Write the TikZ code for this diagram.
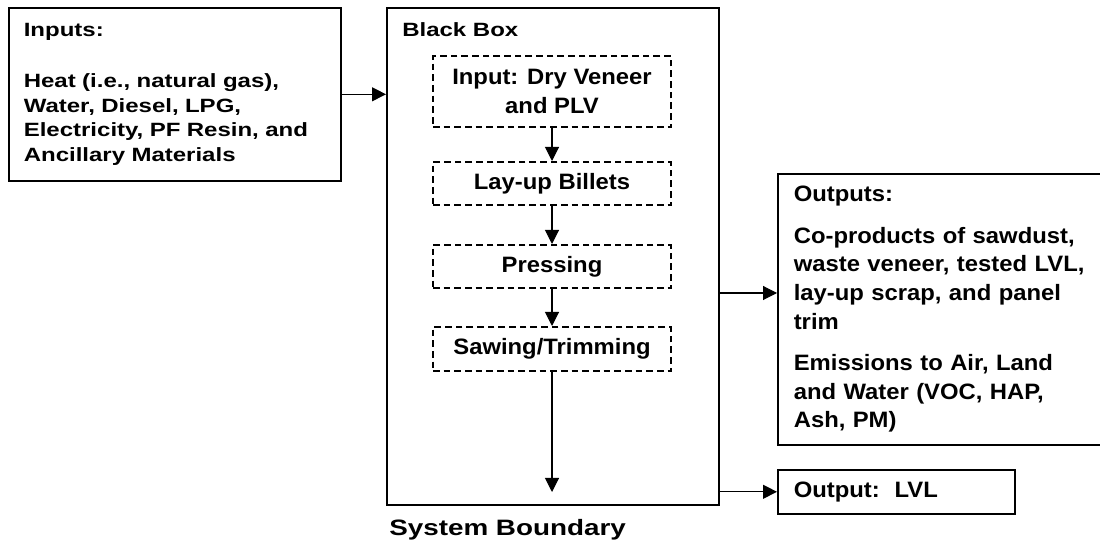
\documentclass[tikz,border=0pt]{standalone}
\usepackage{fontspec}
\setmainfont{Liberation Sans}[FakeStretch=1.07]
\newfontfamily\widefont{Liberation Sans}[FakeStretch=1.25]
\usetikzlibrary{arrows.meta,positioning}

\begin{document}
\begin{tikzpicture}[x=0.75pt,y=-0.75pt,
  small/.style={font=\widefont\fontsize{14.4}{18.3}\selectfont\bfseries},
  big/.style={font=\fontsize{16.7}{21.4}\selectfont\bfseries},
  bigwide/.style={font=\widefont\fontsize{16.7}{21.4}\selectfont\bfseries},
  box/.style={draw,line width=1.2pt,inner sep=0pt,anchor=north west},
  stepbox/.style={draw,line width=1.5pt,dash pattern=on 5pt off 3pt,big,align=center,minimum width=178.5pt,inner sep=0pt},
  arr/.style={line width=0.8pt,-{Triangle[length=10.5pt,width=10.5pt]}}]
\useasboundingbox (0,0) rectangle (1100,541);
\node[box,small,inner xsep=11.25pt,text width=226.5pt,minimum height=129.75pt,align=left] (inputs) at (8,7)
  {Inputs:\\[20pt]Heat (i.e., natural gas),\\Water, Diesel, LPG,\\Electricity, PF Resin, and\\Ancillary Materials};
\node[box,minimum width=249pt,minimum height=372.75pt] (bbox) at (386,7) {};
\node[small,anchor=base west,inner sep=0pt] (bblabel) at (402,37) {Black Box};
\node[stepbox,minimum height=53.25pt] (s1) at (552,91.5) {Input: Dry Veneer\\and PLV};
\node[stepbox,minimum height=32.25pt] (s2) at (552,183.5) {Lay-up Billets};
\node[stepbox,minimum height=32.25pt] (s3) at (552,266.5) {Pressing};
\node[stepbox,minimum height=33pt] (s4) at (552,349) {Sawing/Trimming};
\coordinate (bbend) at (552,492);
\node[box,big,inner xsep=12pt,text width=240pt,minimum height=203.25pt,align=left] (outputs) at (777,173)
  {Outputs:\\[10pt]Co-products of sawdust,\\waste veneer, tested LVL,\\lay-up scrap, and panel\\trim\\[10pt]Emissions to Air, Land\\and Water (VOC, HAP,\\Ash, PM)};
\node[box,big,inner xsep=12pt,text width=153.75pt,minimum height=33pt,align=left] (lvl) at (777,469) {Output:\ \ LVL};
\node[bigwide,anchor=base west,inner sep=0pt] (sysb) at (389,535) {System Boundary};
\draw[arr] (inputs.east) -- (inputs.east -| bbox.west);
\foreach \a/\b in {s1/s2,s2/s3,s3/s4} \draw[arr] (\a) -- (\b);
\draw[arr] (s4) -- (bbend);
\coordinate (o1) at (718,293);
\draw[arr] (o1) -- (o1 -| outputs.west);
\draw[arr] (lvl.west -| bbox.east) -- (lvl.west);
\end{tikzpicture}
\end{document}
